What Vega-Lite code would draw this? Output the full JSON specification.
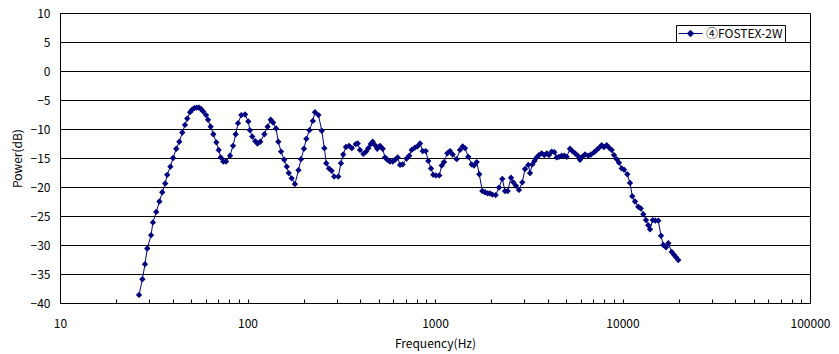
{
  "$schema": "https://vega.github.io/schema/vega-lite/v6.json",
  "width": 750,
  "height": 290,
  "autosize": {"type": "none"},
  "padding": {"left": 60, "top": 13, "right": 29, "bottom": 51},
  "background": "white",
  "config": {
    "font": "Noto Sans CJK JP",
    "view": {"stroke": "black", "strokeWidth": 1},
    "axis": {"labelColor": "black", "titleColor": "black", "labelFontSize": 12, "titleFontSize": 12, "titleFontWeight": "normal", "labelFont": "Noto Sans CJK JP", "titleFont": "Noto Sans CJK JP"}
  },
  "data": {"values": [
    {"f":26.4,"db":-38.6},{"f":27.5,"db":-35.9},{"f":28.4,"db":-33.3},{"f":29.2,"db":-30.6},{"f":30.6,"db":-28.3},{"f":31.3,"db":-26.1},{"f":32.6,"db":-24.3},{"f":33.9,"db":-22.5},{"f":35.1,"db":-20.9},{"f":36.4,"db":-19.4},{"f":37.3,"db":-17.9},{"f":38.8,"db":-16.5},{"f":40.1,"db":-15.0},{"f":41.7,"db":-13.4},{"f":43.3,"db":-12.2},{"f":44.9,"db":-10.6},{"f":46.4,"db":-9.3},{"f":47.7,"db":-8.2},{"f":49.4,"db":-7.1},{"f":50.6,"db":-6.7},{"f":52.0,"db":-6.4},{"f":53.6,"db":-6.3},{"f":55.1,"db":-6.3},{"f":56.7,"db":-6.6},{"f":58.1,"db":-7.0},{"f":60.1,"db":-7.6},{"f":61.6,"db":-8.4},{"f":63.6,"db":-9.6},{"f":65.7,"db":-10.9},{"f":68.2,"db":-12.3},{"f":70.2,"db":-13.6},{"f":72.0,"db":-14.9},{"f":74.3,"db":-15.6},{"f":76.8,"db":-15.6},{"f":80.7,"db":-14.6},{"f":83.7,"db":-12.9},{"f":86.5,"db":-10.9},{"f":89.0,"db":-9.0},{"f":92.7,"db":-7.6},{"f":97.0,"db":-7.5},
    {"f":101,"db":-8.7},{"f":103,"db":-10.2},{"f":106,"db":-11.3},{"f":110,"db":-12.1},{"f":113,"db":-12.5},{"f":117,"db":-12.2},{"f":123,"db":-10.9},{"f":128,"db":-9.6},{"f":133,"db":-8.4},{"f":137,"db":-8.9},{"f":142,"db":-9.9},{"f":146,"db":-12.2},{"f":151,"db":-13.9},{"f":157,"db":-15.3},{"f":162,"db":-16.5},{"f":166,"db":-17.6},{"f":172,"db":-18.5},{"f":179,"db":-19.5},{"f":187,"db":-17.1},{"f":193,"db":-15.2},{"f":200,"db":-13.4},{"f":206,"db":-11.7},{"f":214,"db":-10.2},{"f":223,"db":-8.6},{"f":229,"db":-7.1},{"f":239,"db":-7.6},{"f":249,"db":-10.3},{"f":257,"db":-13.3},{"f":263,"db":-15.9},{"f":272,"db":-16.8},{"f":281,"db":-17.2},{"f":290,"db":-18.2},{"f":305,"db":-18.2},{"f":315,"db":-15.9},{"f":324,"db":-14.4},{"f":335,"db":-13.1},{"f":348,"db":-12.9},{"f":360,"db":-13.3},{"f":378,"db":-12.6},{"f":387,"db":-12.5},{"f":398,"db":-13.6},{"f":415,"db":-14.3},
    {"f":429,"db":-13.9},{"f":441,"db":-13.3},{"f":454,"db":-12.6},{"f":465,"db":-12.2},{"f":479,"db":-12.8},{"f":492,"db":-13.4},{"f":509,"db":-12.9},{"f":526,"db":-13.4},{"f":541,"db":-14.9},{"f":557,"db":-15.3},{"f":575,"db":-15.6},{"f":595,"db":-15.6},{"f":612,"db":-15.3},{"f":632,"db":-14.9},{"f":651,"db":-16.2},{"f":672,"db":-16.1},{"f":706,"db":-15.1},{"f":729,"db":-14.6},{"f":751,"db":-13.6},{"f":782,"db":-13.2},{"f":805,"db":-13.0},{"f":832,"db":-12.5},{"f":860,"db":-13.8},{"f":892,"db":-13.8},{"f":921,"db":-15.5},{"f":952,"db":-16.8},{"f":979,"db":-17.9},{"f":1012,"db":-18.0},{"f":1054,"db":-18.0},{"f":1086,"db":-16.3},{"f":1117,"db":-15.7},{"f":1163,"db":-14.2},{"f":1202,"db":-13.8},{"f":1243,"db":-14.4},{"f":1305,"db":-15.2},{"f":1359,"db":-13.6},{"f":1405,"db":-13.0},{"f":1445,"db":-13.3},{"f":1505,"db":-14.8},{"f":1569,"db":-16.1},{"f":1614,"db":-16.3},{"f":1669,"db":-15.7},{"f":1723,"db":-17.8},
    {"f":1788,"db":-20.7},{"f":1848,"db":-20.9},{"f":1910,"db":-21.1},{"f":1965,"db":-21.1},{"f":2021,"db":-21.3},{"f":2107,"db":-21.4},{"f":2194,"db":-20.1},{"f":2285,"db":-18.6},{"f":2362,"db":-20.7},{"f":2442,"db":-20.7},{"f":2543,"db":-18.4},{"f":2616,"db":-19.2},{"f":2704,"db":-19.8},{"f":2805,"db":-20.5},{"f":2921,"db":-19.2},{"f":3020,"db":-16.9},{"f":3145,"db":-16.2},{"f":3212,"db":-17.6},{"f":3304,"db":-16.1},{"f":3395,"db":-15.5},{"f":3488,"db":-14.9},{"f":3588,"db":-14.5},{"f":3709,"db":-14.2},{"f":3828,"db":-14.5},{"f":3943,"db":-14.2},{"f":4055,"db":-14.5},{"f":4193,"db":-13.9},{"f":4329,"db":-14.0},{"f":4459,"db":-14.9},{"f":4586,"db":-14.8},{"f":4741,"db":-14.6},{"f":4894,"db":-14.6},{"f":5040,"db":-14.8},{"f":5248,"db":-13.4},{"f":5399,"db":-13.8},{"f":5581,"db":-14.2},{"f":5769,"db":-14.6},{"f":5934,"db":-15.3},{"f":6104,"db":-14.8},{"f":6310,"db":-14.4},{"f":6571,"db":-14.6},{"f":6792,"db":-14.4},{"f":7072,"db":-14.0},
    {"f":7284,"db":-13.6},{"f":7520,"db":-13.2},{"f":7746,"db":-12.8},{"f":7967,"db":-13.1},{"f":8236,"db":-12.8},{"f":8472,"db":-13.2},{"f":8758,"db":-13.6},{"f":9010,"db":-14.5},{"f":9313,"db":-15.2},{"f":9579,"db":-15.8},{"f":9902,"db":-16.8},{"f":10186,"db":-17.0},{"f":10608,"db":-17.8},{"f":10965,"db":-19.3},{"f":11277,"db":-21.6},{"f":11659,"db":-22.5},{"f":12143,"db":-23.4},{"f":12508,"db":-23.7},{"f":12910,"db":-24.7},{"f":13346,"db":-25.7},{"f":13729,"db":-26.6},{"f":14020,"db":-27.3},{"f":14492,"db":-25.7},{"f":14960,"db":-25.8},{"f":15523,"db":-25.8},{"f":16042,"db":-28.4},{"f":16504,"db":-30.0},{"f":17061,"db":-30.4},{"f":17547,"db":-29.7},{"f":18297,"db":-31.2},{"f":18822,"db":-31.7},{"f":19290,"db":-32.1},{"f":19839,"db":-32.6}
  ]},
  "mark": {"type": "line", "strokeWidth": 1, "point": {"shape": "diamond", "size": 40, "filled": true, "opacity": 1}},
  "encoding": {
    "x": {"field": "f", "type": "quantitative",
      "scale": {"type": "log", "domain": [10, 100000], "nice": false},
      "axis": {"title": "Frequency(Hz)", "grid": false, "format": "d",
        "values": [10,20,30,40,50,60,70,80,90,100,200,300,400,500,600,700,800,900,1000,2000,3000,4000,5000,6000,7000,8000,9000,10000,20000,30000,40000,50000,60000,70000,80000,90000,100000],
        "labelExpr": "indexof([10,100,1000,10000,100000], datum.value) >= 0 ? datum.label : ''",
        "labelOverlap": false, "labelFlush": false,
        "tickSize": -4, "tickColor": "black", "tickWidth": 1,
        "domainColor": "black", "labelPadding": 24, "labelBaseline": "middle",
        "titleBaseline": "middle", "titleY": 40, "titleX": 375}},
    "y": {"field": "db", "type": "quantitative",
      "scale": {"domain": [-40, 10], "nice": false},
      "axis": {"title": "Power(dB)", "values": [-40,-35,-30,-25,-20,-15,-10,-5,0,5,10],
        "grid": true, "gridColor": "black", "gridOpacity": 1, "gridWidth": 1,
        "ticks": false, "domain": false, "labelPadding": 10, "labelBaseline": "middle",
        "titleX": -43, "titleY": 145, "titleBaseline": "middle", "titleAngle": -90}},
    "color": {"datum": "④FOSTEX-2W", "type": "nominal",
      "scale": {"range": ["#000080"]},
      "legend": {"orient": "none", "legendX": 616, "legendY": 12, "title": null,
        "symbolType": "M-1,0H3M1,-0.55L1.55,0L1,0.55L0.45,0Z", "symbolSize": 144,
        "symbolStrokeWidth": 1, "labelFontSize": 12, "labelFont": "Noto Sans CJK JP", "labelColor": "black",
        "labelOffset": 15, "padding": 2, "strokeColor": "black", "fillColor": "white", "cornerRadius": 0,
        "labelLimit": 300,
        "encode": {"symbols": {"update": {"fill": {"value": "#000080"}, "stroke": {"value": "#000080"}, "opacity": {"value": 1}}}}}}
  }
}
